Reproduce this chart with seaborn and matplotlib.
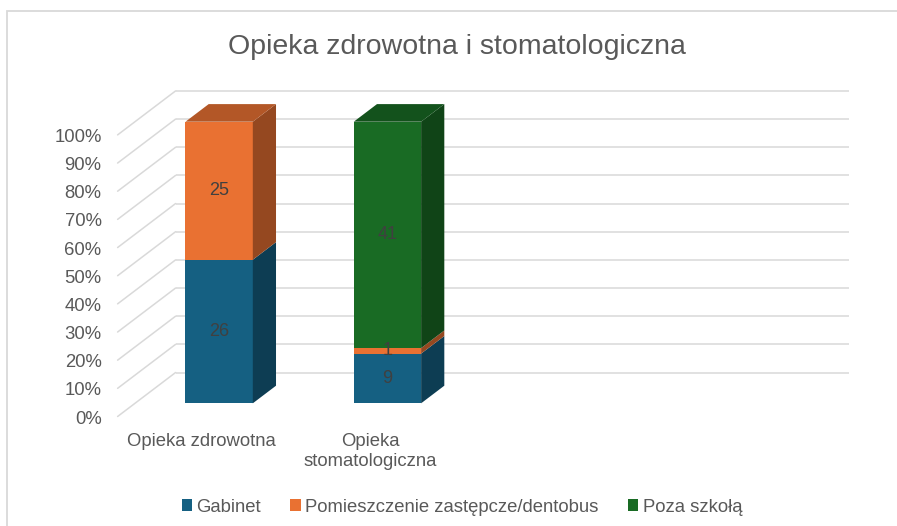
import numpy as np
import pandas as pd
import matplotlib
matplotlib.use('Agg')
import matplotlib.pyplot as plt
import seaborn as sns
from matplotlib.patches import Patch, Rectangle

# data (counts per category)
categories = ['Opieka zdrowotna', 'Opieka\nstomatologiczna']
series = ['Gabinet', 'Pomieszczenie zastępcze/dentobus', 'Poza szkołą']
gabinet = [26, 9]
pomieszczenie = [25, 1]
poza_szkola = [0, 41]
n_slots = 4  # the chart keeps room for two more (empty) categories
pct_ticks = list(range(0, 101, 10))

colors = ['#156082', '#E97132', '#196B24']

# build a long table with percent shares and cumulative tops
counts = np.array([gabinet, pomieszczenie, poza_szkola], dtype=float)
shares = counts / counts.sum(axis=0) * 100
tops = shares.cumsum(axis=0)
bottoms = tops - shares

rows = []
for si, s in enumerate(series):
    for ci, c in enumerate(categories):
        rows.append({'series': s, 'category': c, 'value': counts[si, ci],
                     'share': shares[si, ci], 'top': tops[si, ci] if counts[si, ci] > 0 else np.nan})
df = pd.DataFrame(rows)

sns.set_theme(style='white')
plt.rcParams['font.family'] = ['Liberation Sans', 'DejaVu Sans']

W, H = 897, 526
fig = plt.figure(figsize=(W / 100, H / 100), dpi=100)
ax = fig.add_axes([0, 0, 1, 1])

# pixel geometry of the pseudo-3D frame
CAT_PX, PCT_PX = 168.3, 2.816
X0_PX, Y0_PX = 135.0, 403.3
DX, DY = 58 / CAT_PX, 44 / PCT_PX
FRONT, BACK, DEPTH = -0.3, 0.7, 0.4
BAR_W = 0.4
grid_c = '#d9d9d9'
txt_c = '#595959'

# walls: back gridlines + side diagonals
for k in pct_ticks:
    ax.plot([-0.5 + BACK * DX, n_slots - 0.5 + BACK * DX], [k + BACK * DY] * 2,
            color=grid_c, lw=1.1, zorder=0, solid_capstyle='butt')
    ax.plot([-0.5 + FRONT * DX, -0.5 + BACK * DX], [k + FRONT * DY, k + BACK * DY],
            color=grid_c, lw=1.1, zorder=0)
    ax.text(-0.5 + FRONT * DX - 0.095, k + FRONT * DY - 0.9, f'{k}%', ha='right', va='center',
            fontsize=13.3, color=txt_c)

# front faces: cumulative bars drawn tallest first
for si in reversed(range(len(series))):
    sub = df[df['series'] == series[si]]
    sns.barplot(data=sub, x='category', y='top', order=categories, color=colors[si],
                width=BAR_W, saturation=1, linewidth=0, errorbar=None, ax=ax, zorder=2)


def shade(c, f):
    r, g, b = matplotlib.colors.to_rgb(c)
    return (r * f, g * f, b * f)


ddx, ddy = DEPTH * DX, DEPTH * DY
for ci in range(len(categories)):
    xr = ci + BAR_W / 2
    xl = ci - BAR_W / 2
    for si in range(len(series)):
        if counts[si, ci] <= 0:
            continue
        b, t = bottoms[si, ci], tops[si, ci]
        ax.fill([xr, xr + ddx, xr + ddx, xr], [b, b + ddy, t + ddy, t],
                color=shade(colors[si], 0.64), lw=0, zorder=2)
        ax.text(ci, (b + t) / 2, f'{int(counts[si, ci])}', ha='center', va='center',
                fontsize=13, color='#404040', zorder=4)
    last = max(si for si in range(len(series)) if counts[si, ci] > 0)
    ax.fill([xl, xr, xr + ddx, xl + ddx], [100, 100, 100 + ddy, 100 + ddy],
            color=shade(colors[last], 0.77), lw=0, zorder=2)

# category labels sit under the front edge of the floor
for ci, c in enumerate(categories):
    ax.text(ci + FRONT * DX, (Y0_PX - 433) / PCT_PX, c, ha='center', va='top',
            fontsize=13.3, color=txt_c, linespacing=1.2)

ax.set_xlim(-0.5 - X0_PX / CAT_PX, -0.5 + (W - X0_PX) / CAT_PX)
ax.set_ylim((Y0_PX - H) / PCT_PX, Y0_PX / PCT_PX)
ax.set_axis_off()

fig.text(457 / W, 1 - 54 / H, 'Opieka zdrowotna i stomatologiczna', ha='center', va='baseline',
         fontsize=20.5, color=txt_c)

handles = [Patch(facecolor=c, edgecolor='none') for c in colors]
fig.legend(handles, series, loc='center', bbox_to_anchor=(462 / W, 1 - 507 / H), ncol=3,
           frameon=False, fontsize=13.3, handlelength=0.55, handleheight=0.55,
           handletextpad=0.25, columnspacing=1.6, labelcolor=txt_c)

# chart area border (cut off on the right and bottom)
fig.patches.append(Rectangle((7 / W, -0.1), 2, 1.1 - 11 / H, transform=fig.transFigure,
                             fill=False, edgecolor=grid_c, lw=1.3))

fig.savefig('out.png', dpi=100)
